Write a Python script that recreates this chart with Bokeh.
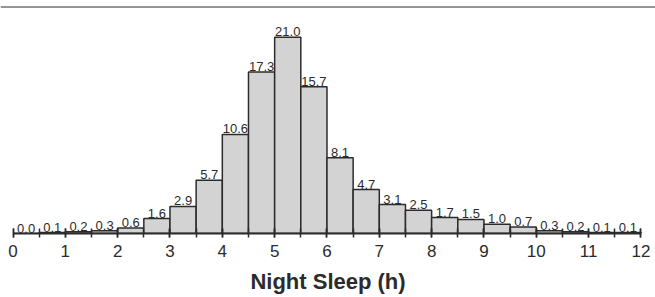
from bokeh.plotting import figure
from bokeh.models import ColumnDataSource, SingleIntervalTicker, Span, Range1d
from bokeh.core.properties import value
from bokeh.embed import file_html
from bokeh.resources import INLINE

# Data: night sleep histogram (% of respondents), 0.5 h bins
bin_left = [0.0, 0.5, 1.0, 1.5, 2.0, 2.5, 3.0, 3.5, 4.0, 4.5, 5.0, 5.5,
            6.0, 6.5, 7.0, 7.5, 8.0, 8.5, 9.0, 9.5, 10.0, 10.5, 11.0, 11.5]
bin_right = [0.5, 1.0, 1.5, 2.0, 2.5, 3.0, 3.5, 4.0, 4.5, 5.0, 5.5, 6.0,
             6.5, 7.0, 7.5, 8.0, 8.5, 9.0, 9.5, 10.0, 10.5, 11.0, 11.5, 12.0]
percent = [0.0, 0.1, 0.2, 0.3, 0.6, 1.6, 2.9, 5.7, 10.6, 17.3, 21.0, 15.7,
           8.1, 4.7, 3.1, 2.5, 1.7, 1.5, 1.0, 0.7, 0.3, 0.2, 0.1, 0.1]
x_label = "Night Sleep (h)"

FONT = "Liberation Sans"
DARK = "#2b2b2b"

src = ColumnDataSource(dict(
    left=bin_left,
    right=bin_right,
    mid=[(a + b) / 2 for a, b in zip(bin_left, bin_right)],
    top=percent,
    label=[f"{v:.1f}" for v in percent],
))

W, H = 655, 297
px_per_x = 52.33
x0_screen = 12.5  # screen offset of x=0 from figure's left
x_start = -x0_screen / px_per_x
x_end = x_start + W / px_per_x
y_end = 24.3

p = figure(width=W, height=H, output_backend="svg", toolbar_location=None,
           x_range=Range1d(x_start, x_end), y_range=Range1d(0, y_end),
           y_axis_location=None, min_border_left=0, min_border_right=0,
           min_border_top=6, min_border_bottom=64)
p.grid.visible = False
p.outline_line_color = None
p.background_fill_color = "white"

p.quad(left="left", right="right", bottom=0, top="top", source=src,
       fill_color="#d3d3d3", line_color=DARK, line_width=1.5)

p.text(x="mid", y="top", text="label", source=src,
       text_align="center", text_baseline="bottom", y_offset=-1,
       text_font=value(FONT), text_font_size="13px", text_color=DARK)

p.add_layout(Span(location=y_end, dimension="width", line_color=DARK,
                  line_width=2))

ax = p.xaxis[0]
ax.ticker = SingleIntervalTicker(interval=1, num_minor_ticks=2)
ax.bounds = (0, 12)
ax.axis_line_color = DARK
ax.axis_line_width = 2
ax.major_tick_line_color = DARK
ax.minor_tick_line_color = DARK
ax.major_tick_line_width = 1.5
ax.minor_tick_line_width = 1.5
ax.major_tick_in = 5
ax.major_tick_out = 4
ax.minor_tick_in = 5
ax.minor_tick_out = 4
ax.major_label_text_font = FONT
ax.major_label_text_font_size = "17px"
ax.major_label_text_color = DARK
ax.major_label_standoff = 7
ax.axis_label = x_label
ax.axis_label_text_font = FONT
ax.axis_label_text_font_style = "bold"
ax.axis_label_text_font_size = "22px"
ax.axis_label_text_color = DARK
ax.axis_label_standoff = 9

open("out.html", "w").write(file_html(p, INLINE))
